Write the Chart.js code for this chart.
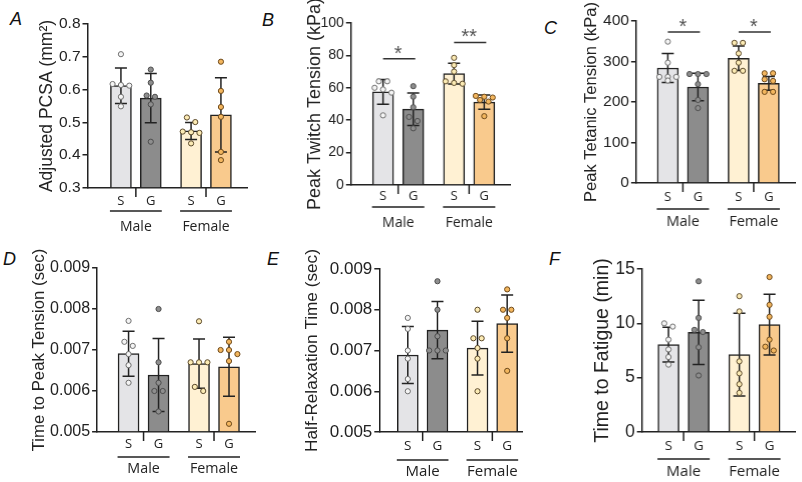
<!DOCTYPE html>
<html>
<head>
<meta charset="utf-8">
<script src="https://cdn.jsdelivr.net/npm/chart.js@4.4.0/dist/chart.umd.min.js"></script>
<style>
  body { margin: 0; background: #fff; width: 802px; height: 482px; position: relative; overflow: hidden; }
  .panel { position: absolute; }
  .letter { position: absolute; font: italic 18px "Liberation Sans", Arial, sans-serif; line-height: 1; color: #111; }
</style>
</head>
<body>
<script>
const groups = ['Male', 'Female'];
const conditions = ['S', 'G', 'S', 'G'];

// A: adjusted PCSA
const pcsaMean = [0.612, 0.574, 0.474, 0.523];
const pcsaSD = [0.054, 0.075, 0.026, 0.113];
const pcsaPoints = [
  [0.708, 0.617, 0.614, 0.612, 0.578, 0.549],
  [0.661, 0.621, 0.582, 0.578, 0.555, 0.441],
  [0.515, 0.501, 0.472, 0.470, 0.468, 0.436],
  [0.685, 0.596, 0.547, 0.517, 0.410, 0.385]
];

// B: peak twitch tension
const twitchMean = [57.5, 46.8, 68.8, 51.2];
const twitchSD = [7.7, 10.0, 6.4, 4.4];
const twitchPoints = [
  [64, 64, 60, 59, 57, 43],
  [61, 54.5, 48, 42, 39.5, 35],
  [78.5, 74, 70, 64, 63, 62.5],
  [55, 54.5, 54, 52.5, 51.5, 42.5]
];

// C: peak tetanic tension
const tetanicMean = [284, 237, 308, 246];
const tetanicSD = [36, 34, 30, 17];
const tetanicPoints = [
  [349, 297, 262, 262, 262, 253],
  [269, 269, 269, 244, 205, 185],
  [346, 346, 320, 297, 277, 277],
  [271, 271, 256, 252, 225, 225]
];

// D: time to peak tension
const ttpMean = [0.00691, 0.00639, 0.00667, 0.00659];
const ttpSD = [0.00055, 0.00089, 0.0006, 0.00072];
const ttpPoints = [
  [0.00771, 0.0072, 0.0071, 0.0069, 0.00663, 0.0062],
  [0.0080, 0.0067, 0.0062, 0.0060, 0.0060, 0.0055],
  [0.0077, 0.0067, 0.0067, 0.0067, 0.0061, 0.0060],
  [0.0072, 0.0070, 0.0070, 0.0069, 0.00673, 0.0052]
];

// E: half-relaxation time
const hrtMean = [0.00689, 0.0075, 0.00706, 0.00766];
const hrtSD = [0.0007, 0.0007, 0.00066, 0.0007];
const hrtPoints = [
  [0.0078, 0.00753, 0.0070, 0.0068, 0.0063, 0.0060],
  [0.0087, 0.0080, 0.00735, 0.0070, 0.0070, 0.0070],
  [0.0080, 0.0073, 0.0073, 0.00706, 0.0068, 0.0060],
  [0.0085, 0.0080, 0.0080, 0.0078, 0.0073, 0.0065]
];

// F: time to fatigue
const fatigueMean = [8.05, 9.17, 7.12, 9.88];
const fatigueSD = [1.6, 2.95, 3.8, 2.8];
const fatiguePoints = [
  [10.0, 9.7, 8.5, 7.6, 6.9, 6.2],
  [13.87, 10.5, 9.4, 9.2, 7.8, 5.2],
  [12.5, 11.1, 6.5, 5.4, 4.4, 3.6],
  [14.26, 11.7, 10.6, 8.5, 7.85, 7.5]
];

const panels = [
  { letter: 'A', title: 'Adjusted PCSA (mm²)', min: 0.3, max: 0.8, step: 0.1, dec: 1,
    mean: pcsaMean, sd: pcsaSD, points: pcsaPoints, sig: [] },
  { letter: 'B', title: 'Peak Twitch Tension (kPa)', min: 0, max: 100, step: 20, dec: 0,
    mean: twitchMean, sd: twitchSD, points: twitchPoints,
    sig: [{ from: 0, to: 1, y: 78, mark: '*' }, { from: 2, to: 3, y: 88, mark: '**' }] },
  { letter: 'C', title: 'Peak Tetanic Tension (kPa)', min: 0, max: 400, step: 100, dec: 0,
    mean: tetanicMean, sd: tetanicSD, points: tetanicPoints,
    sig: [{ from: 0, to: 1, y: 373, mark: '*' }, { from: 2, to: 3, y: 373, mark: '*' }] },
  { letter: 'D', title: 'Time to Peak Tension (sec)', min: 0.005, max: 0.009, step: 0.001, dec: 3,
    mean: ttpMean, sd: ttpSD, points: ttpPoints, sig: [] },
  { letter: 'E', title: 'Half-Relaxation Time (sec)', min: 0.005, max: 0.009, step: 0.001, dec: 3,
    mean: hrtMean, sd: hrtSD, points: hrtPoints, sig: [] },
  { letter: 'F', title: 'Time to Fatigue (min)', min: 0, max: 15, step: 5, dec: 0,
    mean: fatigueMean, sd: fatigueSD, points: fatiguePoints, sig: [] }
];

// page geometry and font sizes for each panel (pixels)
const frames = [
  { titleX: 47, area: [87, 24, 250, 188], top: 0, height: 240, xMin: -1.12, xMax: 4.24,
    labelPad: 5, lineOff: 23, textOff: 39, letter: [10, 10], tickSize: 15.5, titleSize: 17.5, catSize: 13, groupSize: 14 },
  { titleX: 315, area: [351, 23, 513, 185], top: 0, height: 240, xMin: -1.06, xMax: 4.23,
    labelPad: 3, lineOff: 22, textOff: 38, letter: [262, 11], tickSize: 14, titleSize: 18, catSize: 13, groupSize: 14 },
  { titleX: 592, area: [636, 21, 798, 183], top: 0, height: 240, xMin: -1.05, xMax: 4.25,
    labelPad: 6, lineOff: 26, textOff: 39, letter: [544, 19], tickSize: 15.5, titleSize: 16.5, catSize: 13, groupSize: 14.5 },
  { titleX: 39, area: [97, 268, 258, 432], top: 240, height: 242, xMin: -1.05, xMax: 4.22,
    labelPad: 4, lineOff: 25, textOff: 37, letter: [3, 250], tickSize: 16, titleSize: 16.8, catSize: 13, groupSize: 14.3 },
  { titleX: 312, area: [379, 269, 525, 432], top: 240, height: 242, xMin: -0.96, xMax: 3.86,
    labelPad: 6, lineOff: 28, textOff: 40, letter: [267, 250], tickSize: 17, titleSize: 17.2, catSize: 13.5, groupSize: 15 },
  { titleX: 603, area: [642, 269, 798, 432], top: 240, height: 242, xMin: -0.88, xMax: 4.22,
    labelPad: 6, lineOff: 27, textOff: 40, letter: [549, 250], tickSize: 17.5, titleSize: 19.5, catSize: 13.5, groupSize: 15 }
];

const xPos = [0, 1, 2.35, 3.35];
const barFill = ['#e4e4e7', '#8c8c8c', '#fff1d3', '#f9ca8d'];
const dotFill = ['#f4f4f4', '#8e8e8e', '#fcebb4', '#f3b65e'];
const dotEdge = ['#6f6f6f', '#4d4d4d', '#5c4a2c', '#6e4a1c'];
const ink = '#222';

// spread out points that sit at almost the same height (rows of at most 3)
function dodge(vals, range) {
  const thr = range * 0.035, step = 0.28;
  const idx = vals.map((v, i) => i).sort((a, b) => vals[b] - vals[a]);
  const offs = new Array(vals.length).fill(0);
  let cluster = [];
  const flush = () => {
    cluster.forEach((k, j) => { offs[k] = (j - (cluster.length - 1) / 2) * step; });
    cluster = [];
  };
  idx.forEach(k => {
    if (cluster.length && (vals[cluster[0]] - vals[k] > thr || cluster.length >= 3)) flush();
    cluster.push(k);
  });
  flush();
  return offs;
}

function decor(p, f) {
  return {
    id: 'decor' + p.letter,
    afterDatasetDraw(chart, args) {
      if (args.index !== 0) return;
      const { ctx, scales: { x, y } } = chart;
      ctx.save();
      ctx.strokeStyle = ink;
      ctx.lineWidth = 1.5;
      p.mean.forEach((m, i) => {
        const cx = x.getPixelForValue(xPos[i]);
        const y1 = y.getPixelForValue(m + p.sd[i]);
        const y2 = y.getPixelForValue(m - p.sd[i]);
        ctx.beginPath();
        ctx.moveTo(cx, y1); ctx.lineTo(cx, y2);
        ctx.moveTo(cx - 6, y1); ctx.lineTo(cx + 6, y1);
        ctx.moveTo(cx - 6, y2); ctx.lineTo(cx + 6, y2);
        ctx.stroke();
      });
      ctx.restore();
    },
    afterDraw(chart) {
      const { ctx, scales: { x, y } } = chart;
      const base = chart.chartArea.bottom;
      ctx.save();
      ctx.strokeStyle = ink;
      ctx.fillStyle = ink;
      ctx.lineWidth = 1.5;
      groups.forEach((g, gi) => {
        const a = x.getPixelForValue(xPos[gi * 2]);
        const b = x.getPixelForValue(xPos[gi * 2 + 1]);
        const mid = (a + b) / 2;
        ctx.beginPath();
        ctx.moveTo(mid, base); ctx.lineTo(mid, base + 9);
        ctx.moveTo(a - 11, base + f.lineOff); ctx.lineTo(b + 11, base + f.lineOff);
        ctx.stroke();
        ctx.font = f.groupSize + 'px "Open Sans"';
        ctx.textAlign = 'center';
        ctx.textBaseline = 'middle';
        ctx.fillText(g, mid, base + f.textOff);
      });
      p.sig.forEach(s => {
        const a = x.getPixelForValue(xPos[s.from]);
        const b = x.getPixelForValue(xPos[s.to]);
        const ly = y.getPixelForValue(s.y);
        ctx.strokeStyle = '#333';
        ctx.beginPath();
        ctx.moveTo(a, ly); ctx.lineTo(b + 2, ly);
        ctx.stroke();
        ctx.fillStyle = '#555';
        ctx.font = '20px "Liberation Sans"';
        ctx.textAlign = 'center';
        ctx.textBaseline = 'alphabetic';
        ctx.fillText(s.mark, (a + b) / 2, ly + 1);
      });
      ctx.restore();
    }
  };
}

function makeChart(p, f) {
  const [ax, at, ar, ab] = f.area;
  const left = f.titleX - f.titleSize * 0.6;
  const div = document.createElement('div');
  div.className = 'panel';
  div.style.left = left + 'px';
  div.style.top = f.top + 'px';
  div.style.width = (ar + 2 - left) + 'px';
  div.style.height = f.height + 'px';
  const canvas = document.createElement('canvas');
  div.appendChild(canvas);
  document.body.appendChild(div);

  const lab = document.createElement('div');
  lab.className = 'letter';
  lab.style.left = f.letter[0] + 'px';
  lab.style.top = f.letter[1] + 'px';
  lab.textContent = p.letter;
  document.body.appendChild(lab);

  const range = p.max - p.min;
  new Chart(canvas, {
    type: 'bar',
    data: {
      datasets: [
        {
          type: 'bar',
          data: p.mean.map((m, i) => ({ x: xPos[i], y: m })),
          backgroundColor: barFill,
          borderColor: ink,
          borderWidth: 1.5,
          barThickness: 21,
          base: p.min,
          order: 2
        },
        ...p.points.map((vals, g) => {
          const offs = dodge(vals, range);
          return {
            type: 'scatter',
            data: vals.map((v, k) => ({ x: xPos[g] + offs[k], y: v })),
            pointRadius: 2.6,
            pointBackgroundColor: dotFill[g],
            pointBorderColor: dotEdge[g],
            pointBorderWidth: 1,
            clip: false,
            order: 1
          };
        })
      ]
    },
    options: {
      responsive: true,
      maintainAspectRatio: false,
      animation: false,
      layout: { padding: { left: 0, top: at - f.top, right: 2, bottom: 0 } },
      plugins: { legend: { display: false }, tooltip: { enabled: false } },
      scales: {
        x: {
          type: 'linear',
          offset: false,
          min: f.xMin,
          max: f.xMax,
          afterBuildTicks: s => { s.ticks = xPos.map(v => ({ value: v })); },
          afterFit: s => { s.height = f.top + f.height - ab; },
          grid: { display: false, drawTicks: false },
          border: { color: ink, width: 1.5 },
          ticks: {
            padding: f.labelPad, autoSkip: false, maxRotation: 0, color: ink,
            font: { family: '"Open Sans"', size: f.catSize },
            callback: (v, i) => conditions[i]
          }
        },
        y: {
          min: p.min,
          max: p.max,
          afterFit: s => { s.width = ax - left; },
          ticks: {
            stepSize: p.step, color: ink, padding: 2,
            font: { family: '"Liberation Sans"', size: f.tickSize },
            callback: v => Number(v).toFixed(p.dec)
          },
          grid: { drawOnChartArea: false, tickLength: 5, color: ink, lineWidth: 1.5 },
          border: { color: ink, width: 1.5 },
          title: {
            display: true, text: p.title, color: ink, padding: 0,
            font: { family: '"Liberation Sans"', size: f.titleSize }
          }
        }
      }
    },
    plugins: [decor(p, f)]
  });
}

panels.forEach((p, i) => makeChart(p, frames[i]));
</script>
</body>
</html>
